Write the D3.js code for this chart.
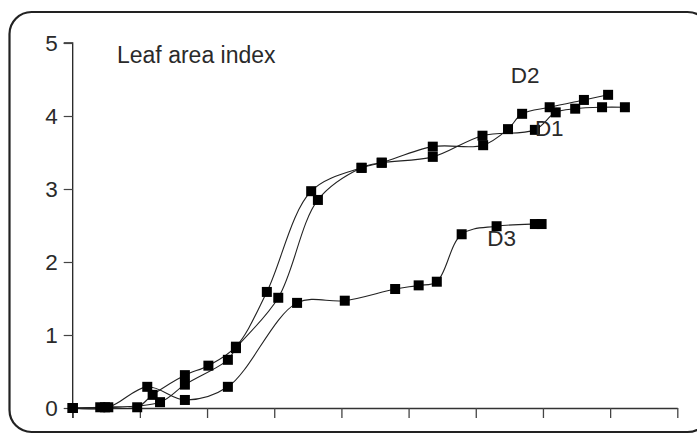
<!DOCTYPE html>
<html>
<head>
<meta charset="utf-8">
<script src="https://cdn.jsdelivr.net/npm/d3@7"></script>
<style>
  html, body { margin: 0; padding: 0; background: #fff; }
  svg { display: block; }
  text { font-family: "Liberation Sans", Arial, sans-serif; }
</style>
</head>
<body>
<svg id="chart" width="697" height="435"></svg>
<script>
// ---- data ----
const xTicks = [0, 1, 2, 3, 4, 5, 6, 7, 8, 9];
const yTicks = [0, 1, 2, 3, 4, 5];
const yTickLabels = ["0", "1", "2", "3", "4", "5"];

const d1X = [0, 0.41, 1.30, 1.67, 2.31, 2.43, 3.06, 3.65, 4.30, 4.60, 5.36, 6.10, 6.88, 7.19, 7.48, 7.88, 8.22];
const d1Y = [0, 0.01, 0.08, 0.32, 0.66, 0.82, 1.51, 2.85, 3.29, 3.36, 3.44, 3.73, 3.81, 4.05, 4.10, 4.12, 4.12];

const d2X = [0, 0.48, 0.96, 1.19, 1.67, 2.02, 2.43, 2.89, 3.55, 4.30, 4.60, 5.36, 6.11, 6.48, 6.69, 7.10, 7.61, 7.97];
const d2Y = [0, 0.01, 0.01, 0.18, 0.45, 0.58, 0.84, 1.59, 2.97, 3.29, 3.36, 3.58, 3.60, 3.82, 4.03, 4.12, 4.22, 4.29];

const d3X = [0, 0.53, 1.11, 1.67, 2.31, 3.34, 4.05, 4.80, 5.15, 5.42, 5.79, 6.31, 6.88, 6.98];
const d3Y = [0, 0.01, 0.29, 0.11, 0.29, 1.44, 1.47, 1.63, 1.68, 1.73, 2.38, 2.49, 2.52, 2.52];

const seriesNames = ["D1", "D2", "D3"];
const labelPos = [[6.88, 3.73], [6.52, 4.45], [6.17, 2.22]]; // data coords of series labels
const chartTitle = "Leaf area index";

// ---- drawing ----
const svg = d3.select("#chart");
const x = d3.scaleLinear().domain([0, 9]).range([72.7, 677.3]);
const y = d3.scaleLinear().domain([0, 5]).range([408, 43]);

// rounded frame
svg.append("rect")
  .attr("x", 9.5).attr("y", 12).attr("width", 700).attr("height", 420)
  .attr("rx", 22).attr("ry", 22)
  .attr("fill", "none").attr("stroke", "#222").attr("stroke-width", 2.2);

// y axis
const yAxis = d3.axisLeft(y).tickValues(yTicks)
  .tickFormat((d, i) => yTickLabels[i]).tickSize(9).tickPadding(6);
const gy = svg.append("g").attr("transform", `translate(${x(0)},0)`).call(yAxis);
gy.select(".domain").attr("stroke", "#222").attr("stroke-width", 1.3)
  .attr("d", `M-9,${y(5)}H0V${y(0) + 10}`);
gy.selectAll(".tick line").attr("stroke", "#444").attr("stroke-width", 1.2);
gy.selectAll(".tick text").attr("font-size", 22.5).attr("fill", "#2a2a2a")
  .attr("font-family", "Liberation Sans, Arial, sans-serif");

// x axis (ticks without labels)
const xAxis = d3.axisBottom(x).tickValues(xTicks).tickFormat("").tickSize(10).tickSizeOuter(0);
const gx = svg.append("g").attr("transform", `translate(0,${y(0)})`).call(xAxis);
gx.select(".domain").attr("stroke", "#333").attr("stroke-width", 1.3);
gx.selectAll(".tick line").attr("stroke", "#444").attr("stroke-width", 1.3);

// series
const series = [
  { xs: d1X, ys: d1Y },
  { xs: d2X, ys: d2Y },
  { xs: d3X, ys: d3Y }
];
const line = d3.line().x(d => x(d[0])).y(d => y(d[1])).curve(d3.curveCatmullRom.alpha(0.5));

series.forEach(s => {
  const pts = s.xs.map((v, i) => [v, s.ys[i]]);
  svg.append("path").datum(pts)
    .attr("d", line).attr("fill", "none")
    .attr("stroke", "#222").attr("stroke-width", 1.1);
});
series.forEach(s => {
  const pts = s.xs.map((v, i) => [v, s.ys[i]]);
  const m = 10;
  svg.append("g").selectAll("rect").data(pts).join("rect")
    .attr("x", d => x(d[0]) - m / 2).attr("y", d => y(d[1]) - m / 2)
    .attr("width", m).attr("height", m).attr("fill", "#000");
});

// title text
svg.append("text").attr("x", 117).attr("y", 63)
  .attr("font-size", 23).attr("fill", "#2a2a2a").text(chartTitle);

// series labels
seriesNames.forEach((n, i) => {
  svg.append("text")
    .attr("x", x(labelPos[i][0])).attr("y", y(labelPos[i][1]))
    .attr("font-size", 22.5).attr("fill", "#2a2a2a").text(n);
});
</script>
</body>
</html>
